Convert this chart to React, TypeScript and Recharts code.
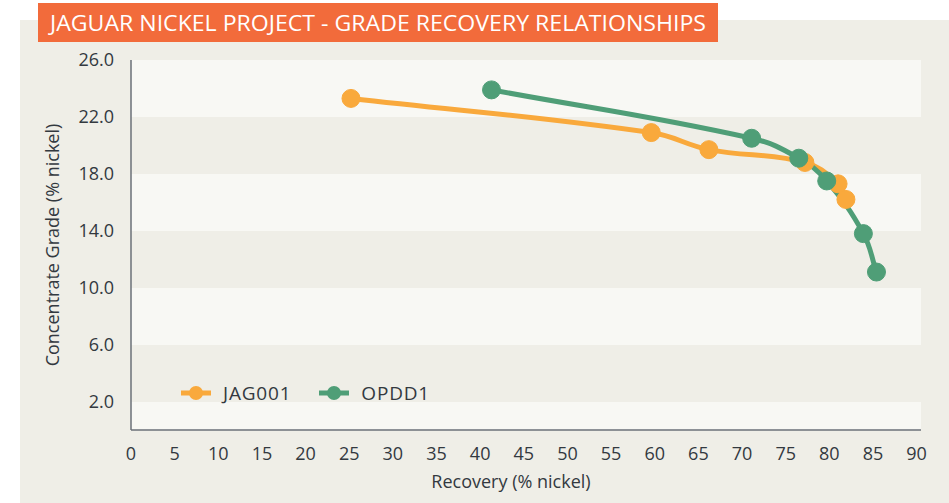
import React from "react";
import { LineChart, Line, XAxis, YAxis, CartesianGrid } from "recharts";

// [recovery %, grade %]
const jagRecovery = [25.2, 59.6, 66.2, 77.2, 81.0, 81.9];
const jagGrade = [23.3, 20.9, 19.7, 18.8, 17.3, 16.2];
const opddRecovery = [41.3, 71.1, 76.5, 79.7, 83.9, 85.4];
const opddGrade = [23.9, 20.5, 19.1, 17.5, 13.8, 11.1];

const xTicks = [0, 5, 10, 15, 20, 25, 30, 35, 40, 45, 50, 55, 60, 65, 70, 75, 80, 85, 90];
const yTicks = [2, 6, 10, 14, 18, 22, 26];

const jagData = jagRecovery.map((x, i) => ({ x, y: jagGrade[i] }));
const opddData = opddRecovery.map((x, i) => ({ x, y: opddGrade[i] }));

const ORANGE = "#f9a93c";
const GREEN = "#4f9e77";
const TEXT = "#33393f";
const FONT = "'Open Sans', sans-serif";

const series = [
  { name: "JAG001", color: ORANGE },
  { name: "OPDD1", color: GREEN },
];

const tickStyle = { fontSize: 18, fill: TEXT, fontFamily: FONT, fontWeight: 500 };

// distance-weighted spline (tension 0.4), avoids kinks where points bunch up
const T = 0.4;
const smoothCurve = (context: any) => {
  let pts: number[][] = [];
  return {
    areaStart() {},
    areaEnd() {},
    lineStart() {
      pts = [];
    },
    point(x: number, y: number) {
      pts.push([+x, +y]);
    },
    lineEnd() {
      const n = pts.length;
      if (!n) return;
      const prev: number[][] = [];
      const next: number[][] = [];
      for (let i = 0; i < n; i++) {
        const p0 = pts[Math.max(i - 1, 0)];
        const p1 = pts[i];
        const p2 = pts[Math.min(i + 1, n - 1)];
        const d01 = Math.hypot(p1[0] - p0[0], p1[1] - p0[1]);
        const d12 = Math.hypot(p2[0] - p1[0], p2[1] - p1[1]);
        const sum = d01 + d12 || 1;
        const fa = (T * d01) / sum;
        const fb = (T * d12) / sum;
        prev.push([p1[0] - fa * (p2[0] - p0[0]), p1[1] - fa * (p2[1] - p0[1])]);
        next.push([p1[0] + fb * (p2[0] - p0[0]), p1[1] + fb * (p2[1] - p0[1])]);
      }
      context.moveTo(pts[0][0], pts[0][1]);
      for (let i = 0; i < n - 1; i++) {
        context.bezierCurveTo(
          next[i][0],
          next[i][1],
          prev[i + 1][0],
          prev[i + 1][1],
          pts[i + 1][0],
          pts[i + 1][1]
        );
      }
    },
  };
};

function LegendRow() {
  return (
    <div
      style={{
        position: "absolute",
        left: 181,
        top: 380,
        display: "flex",
        alignItems: "center",
        fontFamily: FONT,
      }}
    >
      {series.map((s) => (
        <div key={s.name} style={{ display: "flex", alignItems: "center", marginRight: 28 }}>
          <svg width={30} height={20}>
            <line x1={0} y1={10} x2={30} y2={10} stroke={s.color} strokeWidth={5} />
            <circle cx={15} cy={10} r={7} fill={s.color} />
          </svg>
          <span
            style={{
              marginLeft: 12,
              fontSize: 19,
              color: TEXT,
              fontWeight: 500,
              letterSpacing: 0.8,
            }}
          >
            {s.name}
          </span>
        </div>
      ))}
    </div>
  );
}

export default function App() {
  return (
    <div
      style={{
        position: "absolute",
        left: 0,
        top: 0,
        width: 949,
        height: 503,
        background: "#ffffff",
        overflow: "hidden",
      }}
    >
      <div
        style={{
          position: "absolute",
          left: 20,
          top: 20,
          width: 929,
          height: 483,
          background: "#efeee7",
        }}
      />
      <LineChart
        width={949}
        height={503}
        margin={{ top: 60, right: 28, bottom: 13, left: 51 }}
        style={{ position: "absolute", left: 0, top: 0 }}
      >
        <CartesianGrid
          vertical={false}
          stroke="transparent"
          horizontalFill={["#f8f8f4", "#efeee7"]}
        />
        <XAxis
          type="number"
          dataKey="x"
          domain={[0, 90.5]}
          ticks={xTicks}
          allowDataOverflow
          height={60}
          tickLine={false}
          tickSize={0}
          tickMargin={17}
          tick={tickStyle}
          axisLine={{ stroke: "#6b7178", strokeWidth: 1.5 }}
          label={{
            value: "Recovery (% nickel)",
            position: "insideBottom",
            offset: 2,
            dx: -15,
            style: { fontSize: 18, fill: TEXT, fontFamily: FONT, fontWeight: 500 },
          }}
        />
        <YAxis
          type="number"
          dataKey="y"
          domain={[0, 26]}
          ticks={yTicks}
          width={80}
          tickLine={false}
          tickSize={0}
          tickMargin={17}
          tick={tickStyle}
          tickFormatter={(v: number) => v.toFixed(1)}
          axisLine={{ stroke: "#6b7178", strokeWidth: 1.5 }}
          label={{
            value: "Concentrate Grade (% nickel)",
            angle: -90,
            position: "insideLeft",
            offset: 2,
            style: {
              textAnchor: "middle",
              fontSize: 18,
              fill: TEXT,
              fontFamily: FONT,
              fontWeight: 500,
            },
          }}
        />
        <Line
          data={jagData}
          dataKey="y"
          name="JAG001"
          type={smoothCurve as any}
          stroke={ORANGE}
          strokeWidth={5}
          dot={{ r: 9, fill: ORANGE, stroke: ORANGE, strokeWidth: 1 }}
          activeDot={false}
          isAnimationActive={false}
        />
        <Line
          data={opddData}
          dataKey="y"
          name="OPDD1"
          type={smoothCurve as any}
          stroke={GREEN}
          strokeWidth={5}
          dot={{ r: 9, fill: GREEN, stroke: GREEN, strokeWidth: 1 }}
          activeDot={false}
          isAnimationActive={false}
        />
      </LineChart>
      <LegendRow />
      <div
        style={{
          position: "absolute",
          left: 38,
          top: 3,
          width: 680,
          height: 39,
          background: "#f26b3b",
        }}
      >
        <svg width={680} height={39}>
          <text
            x={12}
            y={28}
            textLength={656}
            lengthAdjust="spacingAndGlyphs"
            fill="#ffffff"
            fontSize={22}
            fontFamily={FONT}
            fontWeight={500}
          >
            JAGUAR NICKEL PROJECT - GRADE RECOVERY RELATIONSHIPS
          </text>
        </svg>
      </div>
    </div>
  );
}
